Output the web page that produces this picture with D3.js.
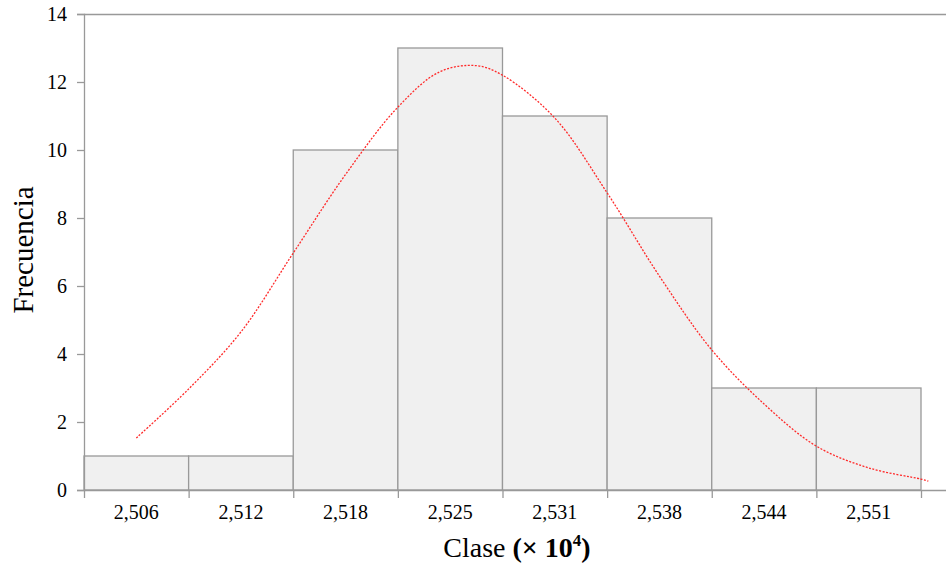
<!DOCTYPE html>
<html><head><meta charset="utf-8">
<script src="https://cdn.jsdelivr.net/npm/d3@7"></script>
<style>body{margin:0;background:#fff}svg{display:block}</style>
</head><body>
<svg id="c" width="947" height="564"></svg>
<script>
const classLabels = ["2,506","2,512","2,518","2,525","2,531","2,538","2,544","2,551"];
const frequencies = [1,1,10,13,11,8,3,3];
const yTicks = [0,2,4,6,8,10,12,14];
// fitted curve: position in bin units (0 = left edge of first bin), frequency
const curveX = [0.5,1.0,1.5,2.0,2.5,3.0,3.4,3.75,4.0,4.5,5.0,5.5,6.0,6.5,7.0,7.5,8.0,8.07];
const curveY = [1.53,2.97,4.65,6.97,9.28,11.26,12.3,12.48,12.2,10.94,8.74,6.29,4.12,2.53,1.29,0.65,0.32,0.26];

const svg = d3.select("#c");
const L = 84, R = 921, RE = 946, T = 14, B = 490;
const x = d3.scaleLinear().domain([0, classLabels.length]).range([L, R]);
const y = d3.scaleLinear().domain([0, 14]).range([B, T]);
const font = "'Liberation Serif','Times New Roman',serif";

// bars
svg.append("g").selectAll("rect").data(frequencies).join("rect")
  .attr("x", (d,i) => x(i)).attr("width", x(1)-x(0))
  .attr("y", d => y(d)).attr("height", d => y(0)-y(d))
  .attr("fill", "#f0f0f0").attr("stroke", "#999").attr("stroke-width", 1.3);

// top border
svg.append("line").attr("x1", L).attr("x2", RE).attr("y1", T+0.5).attr("y2", T+0.5)
  .attr("stroke", "#999").attr("stroke-width", 1.3);

// y axis
const ya = svg.append("g").attr("transform", `translate(${L},0)`)
  .call(d3.axisLeft(y).tickValues(yTicks).tickSize(7).tickPadding(10).tickFormat(d3.format("d")));
ya.select(".domain").attr("stroke", "#999").attr("stroke-width", 1.3);
ya.selectAll(".tick line").attr("stroke", "#999").attr("stroke-width", 1.3);
ya.selectAll("text").attr("font-family", font).attr("font-size", 20).attr("fill", "#000");

// x axis
const xa = svg.append("g").attr("transform", `translate(0,${B})`)
  .call(d3.axisBottom(x).tickValues(d3.range(0, classLabels.length+1)).tickSize(8).tickFormat(""));
xa.select(".domain").remove();
xa.append("line").attr("x1", L).attr("x2", RE).attr("y1", 0.5).attr("y2", 0.5)
  .attr("stroke", "#999").attr("stroke-width", 1.3);
xa.selectAll(".tick line").attr("stroke", "#999").attr("stroke-width", 1.3);
svg.append("g").selectAll("text").data(classLabels).join("text")
  .attr("x", (d,i) => x(i+0.5)).attr("y", 519)
  .attr("text-anchor", "middle").attr("font-family", font).attr("font-size", 20)
  .text(d => d);

// curve
const pts = curveX.map((v,i) => [x(v), y(curveY[i])]);
svg.append("path").attr("d", d3.line().curve(d3.curveCatmullRom)(pts))
  .attr("fill", "none").attr("stroke", "#ff2a2a").attr("stroke-width", 1.3)
  .attr("stroke-dasharray", "2,1.5");

// titles
svg.append("text").attr("transform", "translate(33,250) rotate(-90)")
  .attr("text-anchor", "middle").attr("font-family", font).attr("font-size", 29)
  .text("Frecuencia");
const xt = svg.append("text").attr("x", 517).attr("y", 557).attr("text-anchor", "middle")
  .attr("font-family", font).attr("font-size", 28);
xt.append("tspan").text("Clase ");
xt.append("tspan").attr("font-weight", "bold").text("(× 10");
xt.append("tspan").attr("font-weight", "bold").attr("font-size", 17).attr("dy", -11).text("4");
xt.append("tspan").attr("font-weight", "bold").attr("dy", 11).text(")");
</script>
</body></html>
